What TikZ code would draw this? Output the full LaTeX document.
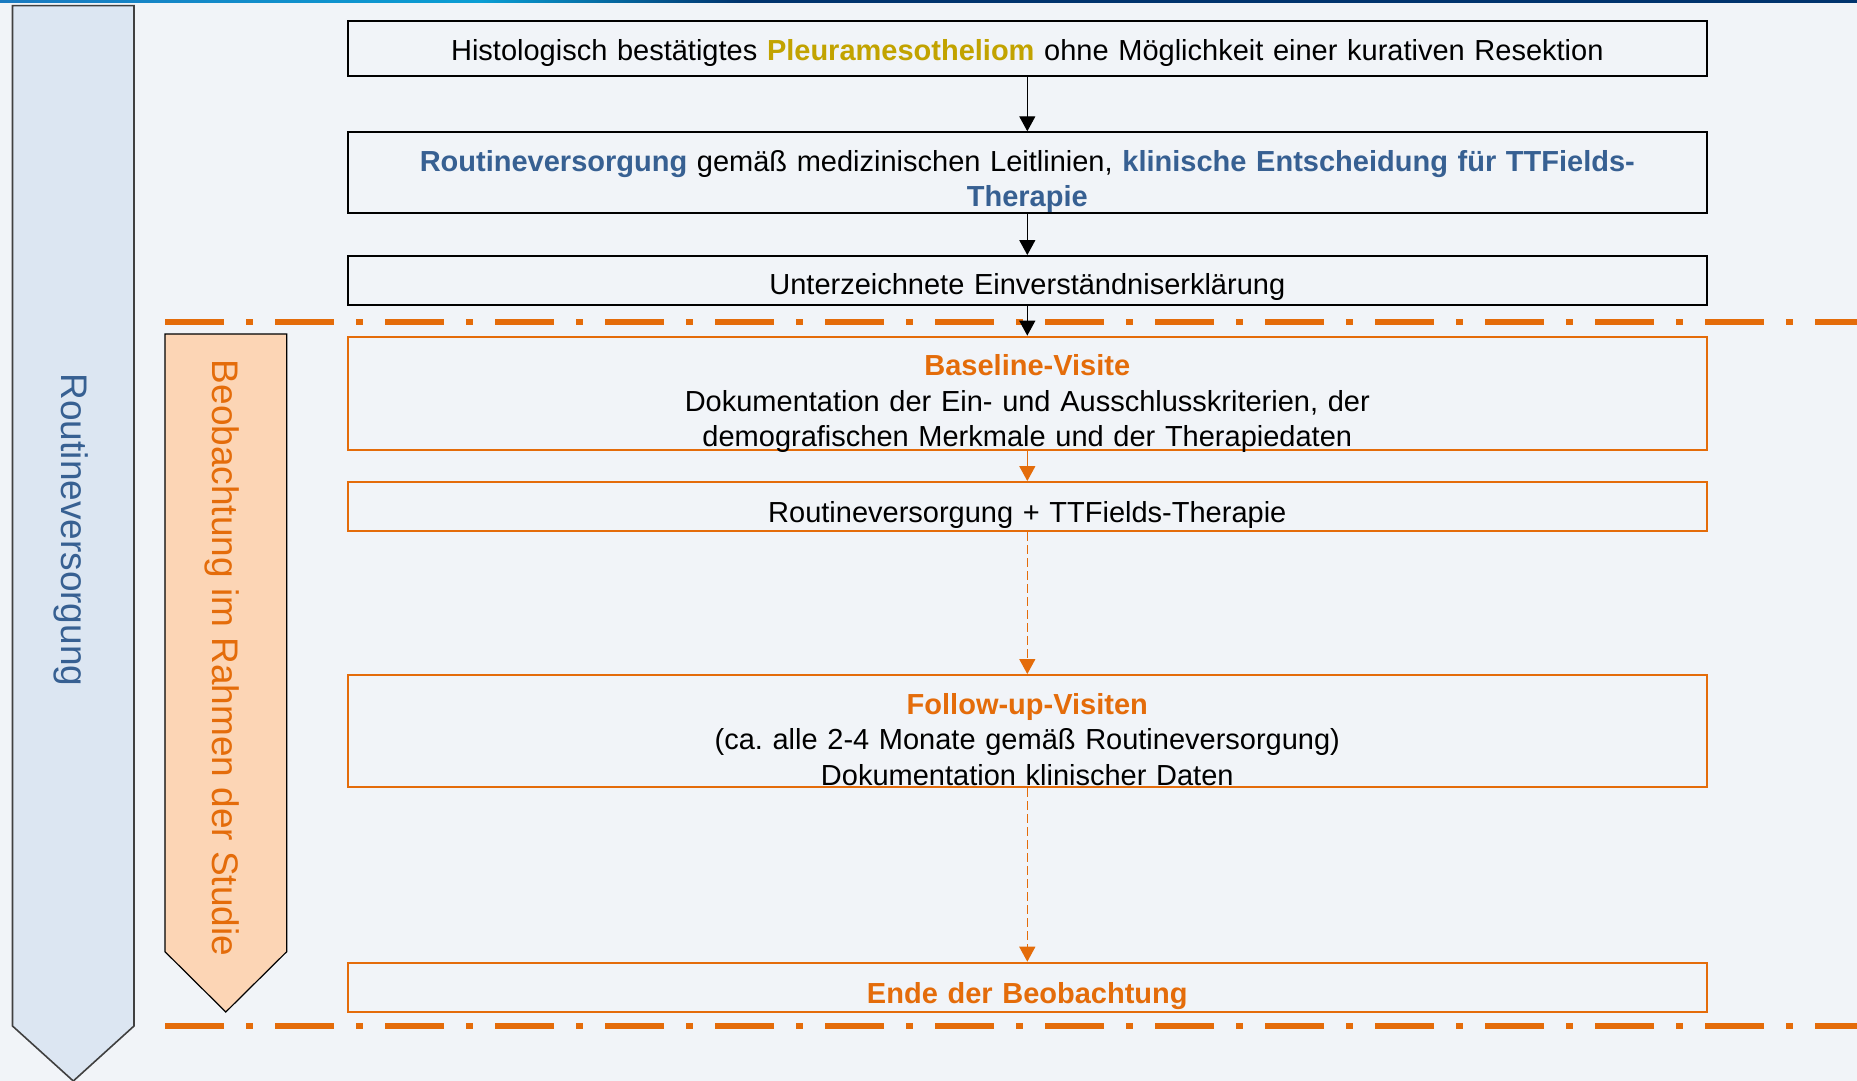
\documentclass[tikz,border=0pt]{standalone}
\usepackage{fontspec}
\setmainfont{Liberation Sans}
\usetikzlibrary{arrows.meta}
\frenchspacing
\definecolor{bgc}{HTML}{F1F4F8}
\definecolor{orangeC}{HTML}{E46C0A}
\definecolor{blueT}{HTML}{376092}
\definecolor{goldT}{HTML}{C2A300}
\definecolor{leftfill}{HTML}{DCE6F2}
\definecolor{leftdraw}{HTML}{404040}
\definecolor{orfill}{HTML}{FCD5B5}
\definecolor{barA}{HTML}{1A7AC0}
\definecolor{barB}{HTML}{0A9ED4}
\definecolor{barC}{HTML}{00346E}
\newcommand{\up}[1]{\rule{0pt}{#1pt}}
\begin{document}
\begin{tikzpicture}[x=1pt,y=-1pt,
  boxbase/.style={minimum width=1359pt, inner sep=0pt, text width=1340pt, align=center,
    font=\fontsize{29}{35.5}\selectfont\frenchspacing},
  blackbox/.style={boxbase, draw=black, line width=2pt},
  orbox/.style={boxbase, draw=orangeC, line width=2pt},
  blkarrow/.style={draw=black, line width=1.3pt, -{Triangle[length=15pt,width=16pt]}},
  orarrow/.style={draw=orangeC, line width=1.3pt, -{Triangle[length=15pt,width=16pt]}},
  ordashed/.style={orarrow, dash pattern=on 9pt off 4pt},
  sepline/.style={draw=orangeC, line width=6.5pt, dash pattern=on 59pt off 22pt on 7pt off 22pt},
  vtext/.style={rotate=-90, inner sep=0pt, font=\fontsize{37}{44}\selectfont}
]
\useasboundingbox (0,0) rectangle (1857,1081);
\fill[bgc] (0,0) rectangle (1857,1081);
% top bar
\shade[left color=barA, right color=barB] (0,0) rectangle (480,3);
\shade[left color=barB, right color=barC] (480,0) rectangle (740,3);
\fill[barC] (740,0) rectangle (1857,3);

% left big arrow
\draw[fill=leftfill, draw=leftdraw, line width=1.6pt, line join=miter]
  (12.5,5.7) -- (134,5.7) -- (134,1026) -- (73.3,1081) -- (12.5,1026) -- cycle;
\node[vtext, text=blueT] (rvtext) at (71,530) {Routineversorgung};

% orange arrow
\draw[fill=orfill, draw=black, line width=1.2pt]
  (165,334) -- (286.7,334) -- (286.7,951.7) -- (225.8,1012) -- (165,951.7) -- cycle;
\node[vtext, text=orangeC] (obtext) at (222,658) {Beobachtung im Rahmen der Studie};

% separator lines
\coordinate (s1a) at (165,322);
\coordinate (s1b) at (1857,322);
\coordinate (s2a) at (165,1026);
\coordinate (s2b) at (1857,1026);
\draw[sepline] (s1a) -- (s1b);
\draw[sepline] (s2a) -- (s2b);

% boxes
\node[blackbox, minimum height=55.6pt] (b1) at (1027.3,48.5)
  {\up{31}Histologisch bestätigtes \textbf{\textcolor{goldT}{Pleuramesotheliom}} ohne Möglichkeit einer kurativen Resektion};
\node[blackbox, minimum height=81pt] (b2) at (1027.3,172.8)
  {\up{38}\textbf{\textcolor{blueT}{Routineversorgung}} gemäß medizinischen Leitlinien, \textbf{\textcolor{blueT}{klinische Entscheidung für TTFields-}}\\\textbf{\textcolor{blueT}{Therapie}}};
\node[blackbox, minimum height=49.3pt] (b3) at (1027.3,280.7)
  {\up{34}Unterzeichnete Einverständniserklärung};
\node[orbox, minimum height=113.3pt, inner ysep=-3pt] (b4) at (1027.3,393.3)
  {\up{42}\textbf{\textcolor{orangeC}{Baseline-Visite}}\\Dokumentation der Ein- und Ausschlusskriterien, der\\demografischen Merkmale und der Therapiedaten};
\node[orbox, minimum height=49.3pt] (b5) at (1027.3,506.7)
  {\up{38}Routineversorgung + TTFields-Therapie};
\node[orbox, minimum height=112.3pt, inner ysep=-1pt] (b6) at (1027.3,731.2)
  {\up{37}\textbf{\textcolor{orangeC}{Follow-up-Visiten}}\\(ca. alle 2-4 Monate gemäß Routineversorgung)\\Dokumentation klinischer Daten};
\node[orbox, minimum height=49.6pt] (b7) at (1027.3,987.5)
  {\up{38}\textbf{\textcolor{orangeC}{Ende der Beobachtung}}};

% connectors
\draw[blkarrow] (b1) -- (b2);
\draw[blkarrow] (b2) -- (b3);
\draw[blkarrow] (b3) -- (b4);
\draw[orarrow] (b4) -- (b5);
\draw[ordashed] (b5) -- (b6);
\draw[ordashed] (b6) -- (b7);
\end{tikzpicture}
\end{document}
